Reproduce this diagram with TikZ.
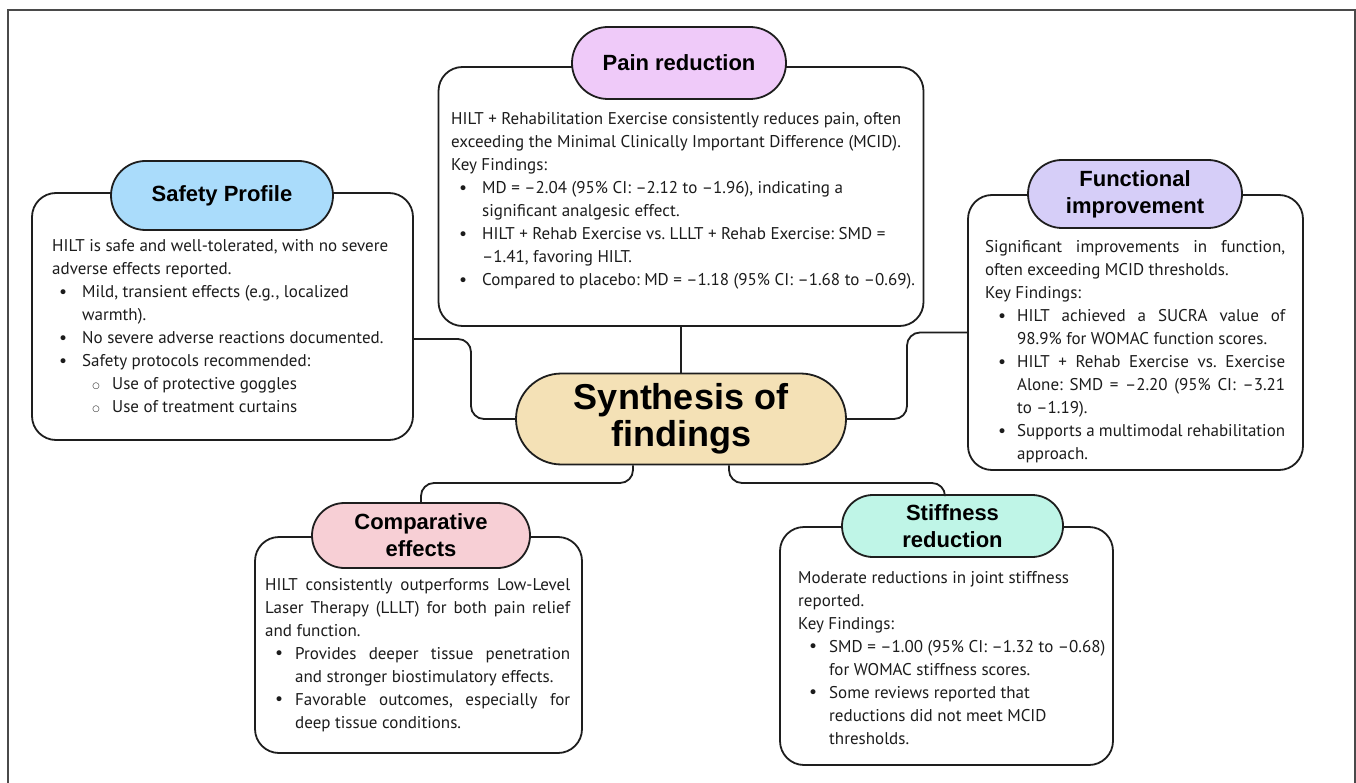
\documentclass[tikz,border=0pt]{standalone}
\usepackage{fontspec}
\setmainfont{PT Sans}
\newfontfamily\hd{Liberation Sans}
\newfontfamily\sym{DejaVu Sans}
\usetikzlibrary{shapes.misc}
\definecolor{linec}{HTML}{1E1E1E}
\definecolor{framec}{HTML}{4A4A4A}
\definecolor{cpain}{HTML}{EFCAF9}
\definecolor{ccenter}{HTML}{F4E1B6}
\definecolor{csafe}{HTML}{AADCFB}
\definecolor{cfunc}{HTML}{D6CEF8}
\definecolor{ccomp}{HTML}{F7CFD5}
\definecolor{cstiff}{HTML}{BFF5E7}
\definecolor{txt}{HTML}{1C1C1C}
\frenchspacing
\newcommand\Ln[2]{\hbox{\kern#1\relax#2}}
\newcommand\Jn[3]{\hbox to #3{\kern#1\relax\spaceskip=0.22em plus 1fil\relax\xspaceskip=\spaceskip#2}}
\newcommand\bul[1]{\llap{\makebox[0pt]{\raisebox{-0.5pt}{\sym\fontsize{17}{17}\selectfont •}}\kern#1}}
\newcommand\sbul[1]{\llap{\makebox[0pt]{\raisebox{1.5pt}{\sym\fontsize{8.5}{9}\selectfont ○}}\kern#1}}
\tikzset{
  x=1pt, y=-1pt,
  box/.style={draw=linec, line width=1.8pt, rounded corners=24pt, fill=white, inner sep=0pt},
  pill/.style={rounded rectangle, draw=linec, line width=1.8pt, inner sep=0pt, align=center,
    text=black, font=\hd\bfseries\fontsize{22}{27}\selectfont},
  conn/.style={draw=linec, line width=1.8pt, rounded corners=13pt},
  body/.style={anchor=base west, inner sep=0pt, text=txt}
}
\begin{document}
\begin{tikzpicture}
\useasboundingbox (0,0) rectangle (1356,783);
\clip (0,0) rectangle (1356,783);
\fill[white] (0,0) rectangle (1356,783);
\draw[line width=2.5pt, draw=framec] (8,10) rectangle (1355,800);

% central node
\node (center) [rounded rectangle, draw=linec, line width=1.8pt, fill=ccenter, minimum width=330pt, minimum height=91pt, inner sep=0pt, align=center, font=\hd\bfseries\fontsize{36}{37}\selectfont] at (681,419) {Synthesis of\\findings};

% boxes
\node (pain) [box, minimum width=485pt, minimum height=259pt] at (681,196.5) {};
\node (safety) [box, minimum width=381pt, minimum height=247pt] at (222.5,316.5) {};
\node (func) [box, minimum width=335pt, minimum height=275pt] at (1135.5,332.5) {};
\node (comp) [box, minimum width=327pt, minimum height=216pt] at (418.5,645) {};
\node (stiff) [box, minimum width=333pt, minimum height=238pt] at (946.5,646) {};

% pills
\node (painP) [pill, fill=cpain, minimum width=214pt, minimum height=72pt] at (679,63) {Pain reduction};
\node (safetyP) [pill, fill=csafe, minimum width=222pt, minimum height=69pt] at (222,195.5) {Safety Profile};
\node (funcP) [pill, fill=cfunc, minimum width=214pt, minimum height=68pt] at (1135,194) {Functional\\improvement};
\node (compP) [pill, fill=ccomp, minimum width=218pt, minimum height=65pt] at (421,535.5) {Comparative\\effects};
\node (stiffP) [pill, fill=cstiff, minimum width=221pt, minimum height=62pt] at (952.5,526) {Stiffness\\reduction};

% connectors
\draw[conn] (pain.south) -- (center.north);
\draw[conn] ([yshift=-22.5pt]safety.east) -- (471,339) -- (471,419) -- (center.west);
\draw[conn] (center.east) -- (907,419) -- (907,332.5) -- (func.west);
\draw[conn] ([xshift=-48pt]center.south) -- (633,483) -- (421,483) -- (compP.north);
\draw[conn] ([xshift=48pt]center.south) -- (729,483) -- (945,483) -- ([xshift=-7.5pt]stiffP.north);

% texts
\node (painT) [body] at (451,125) {\begin{minipage}[t]{470pt}\fontsize{17}{23}\selectfont
\Ln{0pt}{HILT + Rehabilitation Exercise consistently reduces pain, often}
\Ln{0pt}{exceeding the Minimal Clinically Important Difference (MCID).}
\Ln{0pt}{Key Findings:}
\Ln{31pt}{\bul{19pt}MD = –2.04 (95\% CI: –2.12 to –1.96), indicating a}
\Ln{31pt}{significant analgesic effect.}
\Ln{31pt}{\bul{19pt}HILT + Rehab Exercise vs. LLLT + Rehab Exercise: SMD =}
\Ln{31pt}{–1.41, favoring HILT.}
\Ln{31pt}{\bul{19pt}Compared to placebo: MD = –1.18 (95\% CI: –1.68 to –0.69).}
\end{minipage}};

\node (safetyT) [body] at (52,252) {\begin{minipage}[t]{360pt}\fontsize{17}{23}\selectfont
\Ln{0pt}{HILT is safe and well-tolerated, with no severe}
\Ln{0pt}{adverse effects reported.}
\Ln{30pt}{\bul{19pt}Mild, transient effects (e.g., localized}
\Ln{30pt}{warmth).}
\Ln{30pt}{\bul{19pt}No severe adverse reactions documented.}
\Ln{30pt}{\bul{19pt}Safety protocols recommended:}
\Ln{60pt}{\sbul{16pt}Use of protective goggles}
\Ln{60pt}{\sbul{16pt}Use of treatment curtains}
\end{minipage}};

\node (funcT) [body] at (985,253) {\begin{minipage}[t]{300pt}\fontsize{17}{23}\selectfont
\Jn{0pt}{Significant improvements in function,}{300pt}
\Ln{0pt}{often exceeding MCID thresholds.}
\Ln{0pt}{Key Findings:}
\Jn{32pt}{\bul{15pt}HILT achieved a SUCRA value of}{300pt}
\Ln{32pt}{98.9\% for WOMAC function scores.}
\Jn{32pt}{\bul{15pt}HILT + Rehab Exercise vs. Exercise}{300pt}
\Jn{32pt}{Alone: SMD = –2.20 (95\% CI: –3.21}{300pt}
\Ln{32pt}{to –1.19).}
\Jn{32pt}{\bul{15pt}Supports a multimodal rehabilitation}{300pt}
\Ln{32pt}{approach.}
\end{minipage}};

\node (compT) [body] at (265,590) {\begin{minipage}[t]{305pt}\fontsize{17}{23}\selectfont
\Jn{0pt}{HILT consistently outperforms Low-Level}{305pt}
\Jn{0pt}{Laser Therapy (LLLT) for both pain relief}{305pt}
\Ln{0pt}{and function.}
\Jn{30pt}{\bul{16pt}Provides deeper tissue penetration}{305pt}
\Ln{30pt}{and stronger biostimulatory effects.}
\Jn{30pt}{\bul{16pt}Favorable outcomes, especially for}{305pt}
\Ln{30pt}{deep tissue conditions.}
\end{minipage}};

\node (stiffT) [body] at (798,583) {\begin{minipage}[t]{305pt}\fontsize{17}{23}\selectfont
\Ln{0pt}{Moderate reductions in joint stiffness}
\Ln{0pt}{reported.}
\Ln{0pt}{Key Findings:}
\Ln{31pt}{\bul{16pt}SMD = –1.00 (95\% CI: –1.32 to –0.68)}
\Ln{31pt}{for WOMAC stiffness scores.}
\Ln{31pt}{\bul{16pt}Some reviews reported that}
\Ln{31pt}{reductions did not meet MCID}
\Ln{31pt}{thresholds.}
\end{minipage}};
\end{tikzpicture}
\end{document}
